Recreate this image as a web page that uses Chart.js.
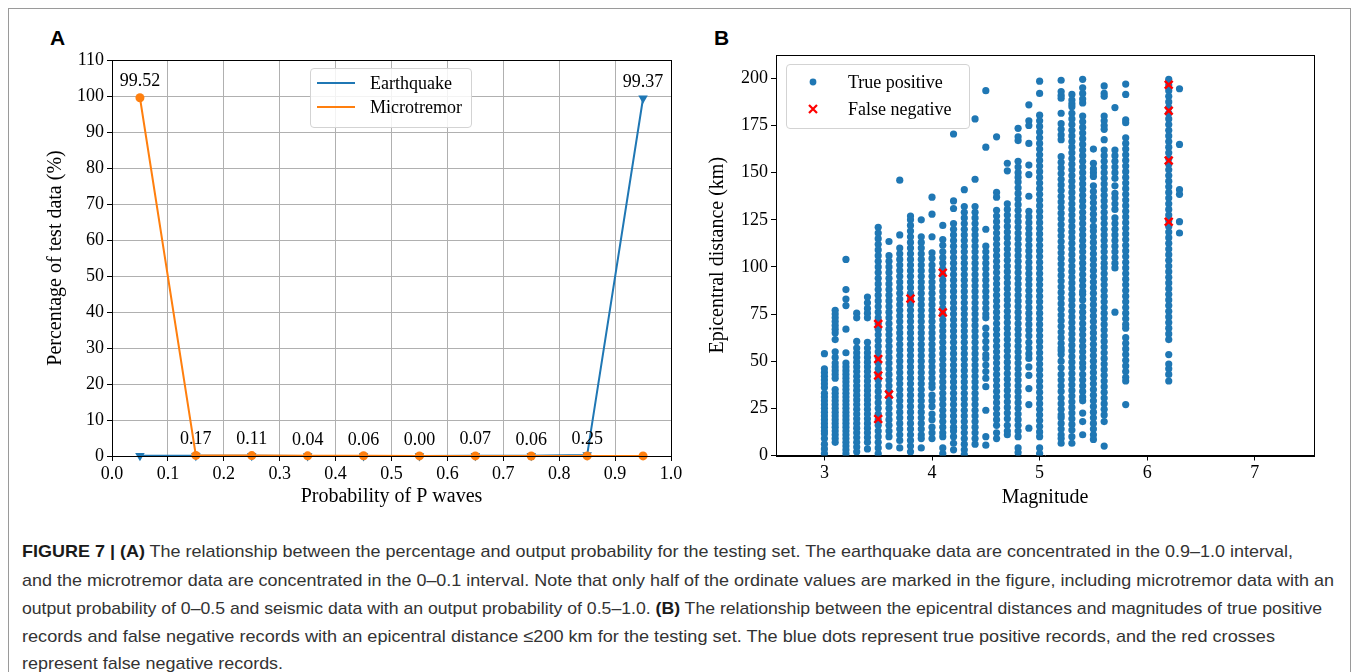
<!DOCTYPE html>
<html>
<head>
<meta charset="utf-8">
<script src="https://cdn.jsdelivr.net/npm/chart.js@4.4.0/dist/chart.umd.min.js"></script>
<style>
  body { margin: 0; background: #fff; width: 1357px; height: 672px; overflow: hidden; position: relative; font-family: "Liberation Serif", "Times New Roman", serif; }
  #frame { position: absolute; left: 8px; top: 8px; width: 1341px; height: 700px; border: 1px solid #9a9a9a; }
  .wrap { position: absolute; top: 0; }
  .panel { position: absolute; font: bold 21px "Liberation Sans", Arial, sans-serif; color: #000; line-height: 21px; }
  .legend { position: absolute; border: 1px solid #d3d3d3; border-radius: 4px; background: rgba(255,255,255,0.85); }
  .lg { position: absolute; font-size: 18px; line-height: 20px; color: #000; white-space: nowrap; }
  .caption { position: absolute; left: 22px; font: 17px "Liberation Sans", Arial, sans-serif; color: #333; white-space: nowrap; line-height: 28px; transform-origin: 0 50%; }
  .caption b { color: #1a1a1a; }
</style>
</head>
<body>
<div id="frame"></div>

<div class="panel" style="left:50px;top:27px">A</div>
<div class="panel" style="left:714px;top:27px">B</div>

<div class="wrap" style="left:40px"><canvas id="chartA" width="650" height="513"></canvas></div>
<div class="wrap" style="left:702px"><canvas id="chartB" width="655" height="513"></canvas></div>

<div class="legend" style="left:310px;top:68px;width:160px;height:58px"></div>
<div style="position:absolute;left:317px;top:82px;width:38px;height:2px;background:#1f77b4"></div>
<div style="position:absolute;left:317px;top:106px;width:38px;height:2px;background:#ff7f0e"></div>
<div class="lg" style="left:370px;top:73px">Earthquake</div>
<div class="lg" style="left:370px;top:97px">Microtremor</div>

<div class="legend" style="left:786px;top:64px;width:182px;height:63px"></div>
<svg style="position:absolute;left:805px;top:74px" width="16" height="44">
  <circle cx="8" cy="8" r="3.4" fill="#1f77b4"/>
  <path d="M4 31 L12 39 M12 31 L4 39" stroke="#ff0000" stroke-width="2.2"/>
</svg>
<div class="lg" style="left:848px;top:72px">True positive</div>
<div class="lg" style="left:848px;top:99px">False negative</div>

<div class="caption" style="top:538px"><b>FIGURE 7 | (A)</b> The relationship between the percentage and output probability for the testing set. The earthquake data are concentrated in the 0.9–1.0 interval,</div>
<div class="caption" style="top:567px">and the microtremor data are concentrated in the 0–0.1 interval. Note that only half of the ordinate values are marked in the figure, including microtremor data with an</div>
<div class="caption" style="top:595px">output probability of 0–0.5 and seismic data with an output probability of 0.5–1.0. <b>(B)</b> The relationship between the epicentral distances and magnitudes of true positive</div>
<div class="caption" style="top:623px">records and false negative records with an epicentral distance ≤200 km for the testing set. The blue dots represent true positive records, and the red crosses</div>
<div class="caption" style="top:650px">represent false negative records.</div>

<script>
// panel A: percentage of test data per probability bin
const binCenters = [0.05, 0.15, 0.25, 0.35, 0.45, 0.55, 0.65, 0.75, 0.85, 0.95];
const earthquakePct = [0.1, 0.05, 0.04, 0.03, 0.03, 0.00, 0.07, 0.06, 0.25, 99.37];
const microtremorPct = [99.52, 0.17, 0.11, 0.04, 0.06, 0.02, 0.02, 0.01, 0.02, 0.02];
const xTicksA = [0, 0.1, 0.2, 0.3, 0.4, 0.5, 0.6, 0.7, 0.8, 0.9, 1.0];
const yTicksA = [0, 10, 20, 30, 40, 50, 60, 70, 80, 90, 100, 110];

// panel B: epicentral distance (km) of true positives, one list per magnitude
const magnitudes = [3.0, 3.1, 3.2, 3.3, 3.4, 3.5, 3.6, 3.7, 3.8, 3.9, 4.0, 4.1, 4.2, 4.3, 4.4, 4.5, 4.6, 4.7, 4.8, 4.9, 5.0, 5.2, 5.3, 5.4, 5.5, 5.6, 5.7, 5.8, 6.2, 6.3];
const m30 = [54,46,44,42,40,38,36,33,31,29,27,25,23,21,19,17,15,13,11.5,9,6,3.5,1];
const m31 = [77,75,73,71,69,67,65,61.5,55,52,49,47,45,43,41,35,33,31,29,27,25,23,21,19,17,15,13,11,9,7];
const m32 = [104,88,83,79.5,67,54.5,49,47,45,43,41,39,37,35,33,31,29,27,25,23,21,19,17,15,13,11,9,7,5,3,1];
const m33 = [75.5,73,60.5,57,54.5,52,49.5,47,44.5,42,39.5,37,34.5,32,29.5,27,24.5,22,19.5,17,14.5,12,9.5,7,4.5,2];
const m34 = [84,81,78,75.5,73,60,57,54.5,52,49.5,47,44.5,42,39.5,37,34.5,32,29.5,27,24.5,22,19.5,17,14.5,12,9.5,7,3.5];
const m35 = [121,118,115,112,109,106,103,100,97,94,91,88,85,82,79,76,73,70,67,64,61,58,55,52,49,46,43,40,37,34,31,28,25,22,19,16,13,10,7,4,1];
const m36 = [113.5,106,103,100,97,94,91,88,85,82,79,76,73,70,67,64,61,58,55,52,49,46,43,40,37,34,31,28,25,22,19,16,13,10,5];
const m37 = [146,117,110,107,104,101,98,95,92,89,86,83,80,77,74,71,68,65,62,59,56,53,50,47,44,41,38,35,32,29,26,23,20,17,14,11,8,4];
const m38 = [127,125,122,119,116,113,110,107,104,101,98,95,92,89,86,83,80,77,74,71,68,65,62,59,56,53,50,47,44,41,38,35,32,29,26,23,20,17,14,11,8,5,2];
const m39 = [125,116,113,110,107,104,101,98,95,92,89,86,83,80,77,74,71,68,65,62,59,56,53,50,47,44,41,38,35,32,29,26,23,20,17,14,11,9,4];
const m40 = [137,128,116,107.5,104.5,101,98,95,92,89,86,83,80,77,74,71,68,65,62,59,56,53,50,47,44,41,38,36,32,29,26,22,19,15,12,9];
const m41 = [122,114.5,111.5,108,105,102,99,96,93,90,87,84,81,78,75,72,69,66,63,60,57,54,51,48,45,42,39,36,33,30,27,24,21,18,15,12,10,4,1];
const m42 = [170.5,135,131,123,120,117,114,111,108,105,102,99,96,93,90,87,84,81,78,75,72,69,66,63,60,57,54,51,48,45,42,39,36,33,30,27,24,21,18,15,13,10,6.5,3];
const m43 = [141,132,129,126,123,120,117,114,111,108,105,102,99,96,93,90,87,84,81,78,75,72,69,66,63,60,57,54,51,48,45,42,39,36,33,30,27,24,21,18,15,12,9,6,3,0.5];
const m44 = [178.5,146.5,132,129,126,123,120,117,114,111,108,105,102,99,96,93,90,87,84,81,78,75,72,69,66,63,60,57,54,51,48,45,42,39,36,33,30,27,24,21,18,15,12,9,6];
const m45 = [193.5,163.5,120,111,108,105,102,99,96,93,90,87,84,81,78,75,73,67.5,64,60.5,57,53.5,51.5,48,44.5,41,36.5,24,10,5.5];
const m46 = [169,139.5,137,130,127,124,121,118,115,112,109,106,103,100,97,94,91,88,85,82,79,76,73,70,67,64,61,58,55,52,49,46,43,40,37,34,31,28,25,22,19,16,12,9];
const m47 = [155,151,133.5,130.5,127.5,124.5,121.5,118.5,115.5,112.5,109.5,106.5,103.5,100.5,97.5,94.5,91.5,88.5,85.5,82.5,79.5,76.5,73.5,70.5,67.5,64.5,61.5,58.5,55.5,52.5,49.5,46.5,43.5,40.5,37.5,34.5,31.5,28.5,25.5,22.5,19.5,16,13,11];
const m48 = [173.5,169,167,156,153,150,147.5,145,142,139,136,133,130,127,124,121,118,115,112,109,106,103,100,97,94,91,88,85,82,79,76,73,70,67,64,61,58,55,52,49,46,43,40,37,34,31,28,25,22,19,16,13,10,4,1.5];
const m49 = [186,177.5,175,165.5,154,149,137.5,129.5,126.5,123.5,120.5,117.5,114.5,111.5,108.5,105.5,102.5,99.5,96.5,93.5,90.5,87.5,84.5,81.5,78.5,75.5,72.5,69.5,66.5,63.5,60,57,54,51.5,47,42.5,35.5,27,14.5];
const m50 = [198.5,192,180.5,177.5,174.5,171.5,168.5,165.5,162.5,159.5,156.5,153.5,150.5,147.5,144.5,141.5,138.5,135.5,132.5,129.5,126.5,123.5,120.5,117.5,114.5,111.5,108.5,105.5,102.5,99.5,96.5,93.5,90.5,87.5,84.5,81.5,78.5,75.5,72.5,69.5,66.5,63.5,60.5,57.5,54.5,51.5,48.5,45.5,42.5,39.5,36.5,33.5,30.5,27.5,24.5,21.5,18.5,15.5,12.5,10,4,1];
const m52 = [199,193,191,189.5,181.5,176,173,170,167.5,158.5,155.5,152.5,149.5,146.5,143.5,140.5,137.5,134.5,131.5,128.5,125.5,122.5,119.5,116.5,113.5,110.5,107.5,104.5,101.5,98.5,95.5,92.5,89.5,86.5,83.5,80.5,77.5,74.5,71.5,68.5,65.5,62.5,59.5,57,55.5,53.5,50,46.5,43,40,37,34,30.5,27.5,24.5,21.5,20,17,14,11,9,6.5];
const m53 = [191.5,188.5,186.5,185,181.5,178.5,175.5,172.5,169.5,166.5,163.5,160.5,157.5,154.5,151.5,148.5,145.5,142.5,139.5,136.5,133.5,130.5,127.5,124.5,121.5,118.5,115.5,112.5,109.5,106.5,103.5,100.5,97.5,94.5,91.5,88.5,85.5,82.5,79.5,76.5,73.5,70.5,67.5,64.5,61.5,58.5,55.5,52.5,49.5,46.5,43.5,40.5,37.5,34.5,31.5,28.5,25.5,22.5,19.5,16.5,13.5,10,6.5];
const m54 = [199.5,195,192,189,187,180,177,174,171,168,165,162,159,156,153,150,147,144,141,138,135,132,129,126,123,120,117,114,111,108,105,102,99,96,93,90,87,85.5,82.5,79,76,73,70,67,64,61,58,55,52,49,46.5,43,40,37,34,31,29,22.5,18,11];
const m55 = [162.5,155,152,150,148,143,140,137,134,131,128,125,121.5,119,116,113,110,107,104,101,98,95,92,89,86,83,80,77,74,71,68,65,62,59,56,53,50,47,44,41,38,35,32,29,26,23,20,17,14,11,8.5];
const m56 = [196,192,190.5,180,177.5,175,173,167.5,162,159,156,153,150,147,144,141,138,135,132,129,126,123,120,117,114,111,108,105,102,99.5,96.5,93.5,90.5,87.5,84.5,81.5,78.5,75.5,72.5,69.5,66.5,63.5,60.5,57.5,54.5,51.5,48.5,45.5,42.5,39.5,36.5,33.5,30.5,27.5,24.5,21.5,18,5];
const m57 = [184.5,162,159,156,153,150,147,143,139,136.5,133.5,130.5,126,123,120,117,114,111,108,105,102,99.5,76];
const m58 = [197,191.5,178,176.5,168.5,165.5,162.5,159.5,156.5,153.5,150.5,147.5,144.5,141.5,138.5,135.5,132.5,129.5,126.5,123.5,120.5,117.5,114.5,111.5,108.5,105.5,102.5,99.5,96.5,93.5,90.5,87.5,84.5,81.5,78.5,75.5,72.5,69.5,67.5,62.5,59.5,56.5,53.5,50.5,47.5,44.5,41.5,39.5,27];
const m62 = [199.5,196.5,193.5,190.5,187.5,184.5,181.5,178.5,175.5,172.5,169.5,166.5,163.5,160.5,157.5,154.5,151.5,148.5,145.5,142.5,139.5,136.5,133.5,130.5,127.5,124.5,121.5,118.5,115.5,112.5,109.5,106.5,103.5,100.5,97.5,94.5,91.5,88.5,85.5,82.5,79.5,76.5,73.5,70.5,67.5,64.5,61.5,53.5,48.5,46,43,39.5];
const m63 = [194.5,165,141,138.5,124,118];
const distanceCols = [m30, m31, m32, m33, m34, m35, m36, m37, m38, m39, m40, m41, m42, m43, m44, m45, m46, m47, m48, m49, m50, m52, m53, m54, m55, m56, m57, m58, m62, m63];

// false negatives
const fnMag = [3.5, 3.5, 3.5, 3.5, 3.6, 3.8, 4.1, 4.1, 6.2, 6.2, 6.2, 6.2];
const fnDist = [69.8, 51.2, 42.4, 19.4, 32.3, 83.2, 96.9, 75.9, 196.6, 182.8, 156.4, 124];
const xTicksB = [3, 4, 5, 6, 7];
const yTicksB = [0, 25, 50, 75, 100, 125, 150, 175, 200];

const blue = "#1f77b4";
const orange = "#ff7f0e";
const serif = "'Liberation Serif', 'Times New Roman', serif";

// top and right spines
const frame = {
  id: "frame",
  afterDraw(chart) {
    const { ctx, chartArea: a } = chart;
    ctx.save();
    ctx.strokeStyle = "#000";
    ctx.lineWidth = 1;
    ctx.strokeRect(Math.round(a.left) + 0.5, Math.round(a.top) + 0.5, Math.round(a.right - a.left), Math.round(a.bottom - a.top));
    ctx.restore();
  }
};

// numbers over the points: microtremor for 0-0.5, earthquake for 0.5-1.0
const valueLabels = {
  id: "valueLabels",
  afterDatasetsDraw(chart) {
    const { ctx, scales } = chart;
    ctx.save();
    ctx.font = "18px " + serif;
    ctx.fillStyle = "#000";
    ctx.textAlign = "center";
    ctx.textBaseline = "middle";
    binCenters.forEach((c, i) => {
      const v = i < 5 ? microtremorPct[i] : earthquakePct[i];
      ctx.fillText(v.toFixed(2), scales.x.getPixelForValue(c), scales.y.getPixelForValue(v) - 16);
    });
    ctx.restore();
  }
};

const tickFont = { family: serif, size: 18 };
const titleFont = { family: serif, size: 20 };

new Chart(document.getElementById("chartA"), {
  type: "line",
  data: {
    datasets: [
      {
        label: "Microtremor",
        data: binCenters.map((c, i) => ({ x: c, y: microtremorPct[i] })),
        borderColor: orange,
        backgroundColor: orange,
        borderWidth: 2,
        pointStyle: "circle",
        pointRadius: 4.5,
        pointBorderWidth: 0,
        clip: false
      },
      {
        label: "Earthquake",
        data: binCenters.map((c, i) => ({ x: c, y: earthquakePct[i] })),
        borderColor: blue,
        backgroundColor: blue,
        borderWidth: 2,
        pointStyle: "triangle",
        pointRotation: 180,
        pointRadius: 5.5,
        pointBorderWidth: 0,
        clip: false
      }
    ]
  },
  options: {
    responsive: false,
    animation: false,
    events: [],
    layout: { padding: { top: 60, right: 19, left: 0, bottom: 0 } },
    plugins: { legend: { display: false }, tooltip: { enabled: false } },
    scales: {
      x: {
        type: "linear",
        min: 0,
        max: 1,
        afterBuildTicks: (s) => { s.ticks = xTicksA.map((v) => ({ value: v })); },
        afterFit: (s) => { s.height = 57; },
        ticks: { font: tickFont, color: "#000", padding: 2, maxRotation: 0, autoSkip: false, callback: (v) => Number(v).toFixed(1) },
        grid: { color: "#b0b0b0", lineWidth: 1, tickColor: "#000", tickLength: 5 },
        border: { color: "#000", width: 1 },
        title: { display: true, text: "Probability of P waves", font: titleFont, color: "#000", padding: { top: 0, bottom: 4 } }
      },
      y: {
        min: 0,
        max: 110,
        afterBuildTicks: (s) => { s.ticks = yTicksA.map((v) => ({ value: v })); },
        afterFit: (s) => { s.width = 72; },
        ticks: { font: tickFont, color: "#000", padding: 3 },
        grid: { color: "#b0b0b0", lineWidth: 1, tickColor: "#000", tickLength: 5 },
        border: { color: "#000", width: 1 },
        title: { display: true, text: "Percentage of test data (%)", font: titleFont, color: "#000", padding: { top: 4, bottom: 0 } }
      }
    }
  },
  plugins: [frame, valueLabels]
});

const tpPoints = magnitudes.flatMap((m, i) => distanceCols[i].map((d) => ({ x: m, y: d })));
const fnPoints = fnMag.map((m, i) => ({ x: m, y: fnDist[i] }));

new Chart(document.getElementById("chartB"), {
  type: "scatter",
  data: {
    datasets: [
      {
        label: "False negative",
        data: fnPoints,
        pointStyle: "crossRot",
        pointRadius: 5.5,
        borderColor: "#ff0000",
        backgroundColor: "#ff0000",
        pointBorderWidth: 2.5
      },
      {
        label: "True positive",
        data: tpPoints,
        pointStyle: "circle",
        pointRadius: 3.6,
        pointBorderWidth: 0,
        backgroundColor: blue,
        borderColor: blue
      }
    ]
  },
  options: {
    responsive: false,
    animation: false,
    events: [],
    layout: { padding: { top: 55, right: 43, left: 0, bottom: 0 } },
    plugins: { legend: { display: false }, tooltip: { enabled: false } },
    scales: {
      x: {
        type: "linear",
        min: 2.55,
        max: 7.55,
        afterBuildTicks: (s) => { s.ticks = xTicksB.map((v) => ({ value: v })); },
        afterFit: (s) => { s.height = 57.5; },
        ticks: { font: tickFont, color: "#000", padding: 2, maxRotation: 0, autoSkip: false },
        grid: { drawOnChartArea: false, tickColor: "#000", tickLength: 5 },
        border: { color: "#000", width: 1 },
        title: { display: true, text: "Magnitude", font: titleFont, color: "#000", padding: { top: 0, bottom: 3 } }
      },
      y: {
        min: 0,
        max: 212.4,
        afterBuildTicks: (s) => { s.ticks = yTicksB.map((v) => ({ value: v })); },
        afterFit: (s) => { s.width = 74; },
        ticks: { font: tickFont, color: "#000", padding: 3 },
        grid: { drawOnChartArea: false, tickColor: "#000", tickLength: 5 },
        border: { color: "#000", width: 1 },
        title: { display: true, text: "Epicentral distance (km)", font: titleFont, color: "#000", padding: { top: 4, bottom: 0 } }
      }
    }
  },
  plugins: [frame]
});

// squeeze caption lines to the widths in the figure; the short last line uses the average factor
const lineEnds = [1293, 1334, 1322, 1275];
const captions = document.querySelectorAll(".caption");
let factorSum = 0;
lineEnds.forEach((end, i) => {
  const f = (end - 22) / captions[i].getBoundingClientRect().width;
  factorSum += f;
  captions[i].style.transform = "scaleX(" + f.toFixed(4) + ")";
});
captions[4].style.transform = "scaleX(" + (factorSum / lineEnds.length).toFixed(4) + ")";
</script>
</body>
</html>
